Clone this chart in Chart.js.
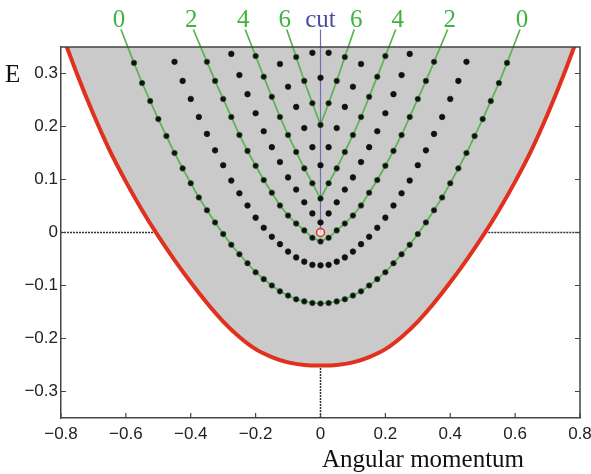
<!DOCTYPE html>
<html><head><meta charset="utf-8">
<script src="https://cdn.jsdelivr.net/npm/chart.js@4.4.1/dist/chart.umd.min.js"></script>
<style>html,body{margin:0;padding:0;background:#fff;}canvas{display:block;}</style>
</head><body>
<canvas id="c" width="591" height="474" style="width:591px;height:474px"></canvas>
<script>
const _ = null;
// angular momentum grid (x positions of levels)
const L_grid = [-0.575,-0.55,-0.525,-0.5,-0.475,-0.45,-0.425,-0.4,-0.375,-0.35,-0.325,-0.3,-0.275,-0.25,-0.225,-0.2,-0.175,-0.15,-0.125,-0.1,-0.075,-0.05,-0.025,0,0.025,0.05,0.075,0.1,0.125,0.15,0.175,0.2,0.225,0.25,0.275,0.3,0.325,0.35,0.375,0.4,0.425,0.45,0.475,0.5,0.525,0.55,0.575];
// energy levels of each branch on that grid
const E_b0 = [0.320,0.282,0.248,0.214,0.182,0.150,0.121,0.093,0.066,0.042,0.019,-0.003,-0.023,-0.041,-0.058,-0.075,-0.088,-0.100,-0.111,-0.119,-0.126,-0.130,-0.133,-0.134,-0.133,-0.130,-0.126,-0.119,-0.111,-0.100,-0.088,-0.075,-0.058,-0.041,-0.023,-0.003,0.019,0.042,0.066,0.093,0.121,0.150,0.182,0.214,0.248,0.282,0.320];
const E_b1 = [_,_,_,_,_,0.322,0.286,0.252,0.218,0.186,0.155,0.127,0.098,0.074,0.051,0.028,0.009,-0.008,-0.022,-0.036,-0.047,-0.055,-0.061,-0.062,-0.061,-0.055,-0.047,-0.036,-0.022,-0.008,0.009,0.028,0.051,0.074,0.098,0.127,0.155,0.186,0.218,0.252,0.286,0.322,_,_,_,_,_];
const E_b2 = [_,_,_,_,_,_,_,_,_,0.322,0.286,0.252,0.218,0.184,0.154,0.126,0.099,0.075,0.051,0.032,0.017,0.004,-0.010,-0.017,-0.010,0.004,0.017,0.032,0.051,0.075,0.099,0.126,0.154,0.184,0.218,0.252,0.286,0.322,_,_,_,_,_,_,_,_,_];
const E_b3 = [_,_,_,_,_,_,_,_,_,_,_,_,0.337,0.297,0.261,0.225,0.191,0.161,0.133,0.104,0.081,0.057,0.036,0.019,0.036,0.057,0.081,0.104,0.133,0.161,0.191,0.225,0.261,0.297,0.337,_,_,_,_,_,_,_,_,_,_,_,_];
const E_b4 = [_,_,_,_,_,_,_,_,_,_,_,_,_,_,_,0.333,0.294,0.256,0.218,0.184,0.152,0.121,0.093,0.064,0.093,0.121,0.152,0.184,0.218,0.256,0.294,0.333,_,_,_,_,_,_,_,_,_,_,_,_,_,_,_];
const E_b5 = [_,_,_,_,_,_,_,_,_,_,_,_,_,_,_,_,_,_,0.318,0.275,0.237,0.197,0.161,0.127,0.161,0.197,0.237,0.275,0.318,_,_,_,_,_,_,_,_,_,_,_,_,_,_,_,_,_,_];
const E_b6 = [_,_,_,_,_,_,_,_,_,_,_,_,_,_,_,_,_,_,_,_,0.331,0.286,0.244,0.203,0.244,0.286,0.331,_,_,_,_,_,_,_,_,_,_,_,_,_,_,_,_,_,_,_,_];
const E_b7 = [_,_,_,_,_,_,_,_,_,_,_,_,_,_,_,_,_,_,_,_,_,_,0.339,0.292,0.339,_,_,_,_,_,_,_,_,_,_,_,_,_,_,_,_,_,_,_,_,_,_];
const greenBranches = [E_b0, E_b2, E_b4, E_b6];
const blackBranches = [E_b1, E_b3, E_b5, E_b7];
const greenLabels = ['0','2','4','6'];
const greenEndL = [-0.615,-0.392,-0.232,-0.104];
const greenEndR = [0.615,0.392,0.232,0.104];
const greenEndE = 0.383;
const cutLabel = 'cut';
const cutL = 0;
const cutE = [0.0, 0.383];
const circleL = 0, circleE = 0.0;
// boundary (red) curve
const L_red = [-0.8,-0.75,-0.7,-0.65,-0.6,-0.55,-0.5,-0.45,-0.4,-0.35,-0.3,-0.25,-0.2,-0.15,-0.1,-0.05,0,0.05,0.1,0.15,0.2,0.25,0.3,0.35,0.4,0.45,0.5,0.55,0.6,0.65,0.7,0.75,0.8];
const E_red = [0.380,0.298,0.223,0.155,0.096,0.042,-0.007,-0.052,-0.094,-0.133,-0.168,-0.197,-0.220,-0.235,-0.245,-0.250,-0.251,-0.250,-0.245,-0.235,-0.220,-0.197,-0.168,-0.133,-0.094,-0.052,-0.007,0.042,0.096,0.155,0.223,0.298,0.380];
// dotted reference lines
const zeroLineLeftL = [-0.8,-0.508];
const zeroLineRightL = [0.508,0.8];
const zeroVertE = [-0.35,-0.251];
// axes
const xTicks = [-0.8,-0.6,-0.4,-0.2,0,0.2,0.4,0.6,0.8];
const xTickLabels = ['\u22120.8','\u22120.6','\u22120.4','\u22120.2','0','0.2','0.4','0.6','0.8'];
const yTicks = [-0.3,-0.2,-0.1,0,0.1,0.2,0.3];
const yTickLabels = ['\u22120.3','\u22120.2','\u22120.1','0','0.1','0.2','0.3'];
const xTitle = 'Angular momentum';
const yTitle = 'E';

const pts = E => L_grid.map((x,i)=>E[i]===null?null:{x:x,y:E[i]}).filter(Boolean);
const GREEN = '#58b450', DOT = '#111111';

const datasets = [];
datasets.push({data:L_red.map((x,i)=>({x:x,y:E_red[i]})), showLine:true, borderWidth:0, pointRadius:0, fill:'end', backgroundColor:'#cacaca', tension:0.35, order:100});
const dotted = {showLine:true, borderColor:'#333', borderWidth:1.5, borderDash:[2,1], pointRadius:0, fill:false, order:90, clip:0};
datasets.push(Object.assign({data:zeroLineLeftL.map(x=>({x:x,y:0}))}, dotted));
datasets.push(Object.assign({data:zeroLineRightL.map(x=>({x:x,y:0}))}, dotted));
datasets.push(Object.assign({data:zeroVertE.map(y=>({x:0,y:y}))}, dotted));
greenBranches.forEach((E,i)=>{
  datasets.push({data:[{x:greenEndL[i],y:greenEndE}].concat(pts(E)).concat([{x:greenEndR[i],y:greenEndE}]),
    showLine:true, borderColor:GREEN, borderWidth:1.7, pointRadius:0, fill:false, tension:0, clip:false, order:80});
});
datasets.push({data:cutE.map(y=>({x:cutL,y:y})), showLine:true, borderColor:'#6e6eb4', borderWidth:1.2, pointRadius:0, fill:false, clip:false, order:70});
greenBranches.concat(blackBranches).forEach((E,i)=>{
  datasets.push({data:pts(E), showLine:false, pointRadius:2.8, pointBackgroundColor:DOT, pointBorderColor:i<4?'#2f6a2f':DOT, pointBorderWidth:0.6, order:60});
});
datasets.push({data:[{x:circleL,y:circleE}], showLine:false, pointRadius:4, pointBackgroundColor:'rgba(255,255,255,0.55)', pointBorderColor:'#e03020', pointBorderWidth:1.5, order:50});
datasets.push({data:L_red.map((x,i)=>({x:x,y:E_red[i]})), showLine:true, borderColor:'#e0301e', borderWidth:4, pointRadius:0, fill:false, tension:0.35, clip:0, order:40});

const frame = {
  id:'frame',
  afterDatasetsDraw(chart){
    const ctx=chart.ctx, a=chart.chartArea, x=chart.scales.x, y=chart.scales.y;
    ctx.save();
    ctx.strokeStyle='#444'; ctx.lineWidth=1.5;
    ctx.beginPath(); ctx.moveTo(a.left,a.top); ctx.lineTo(a.right,a.top); ctx.lineTo(a.right,a.bottom); ctx.stroke();
    ctx.lineWidth=1.2; ctx.beginPath();
    xTicks.forEach(v=>{const px=x.getPixelForValue(v); ctx.moveTo(px,a.bottom); ctx.lineTo(px,a.bottom-5);});
    yTicks.forEach(v=>{const py=y.getPixelForValue(v); ctx.moveTo(a.left,py); ctx.lineTo(a.left+5,py); ctx.moveTo(a.right,py); ctx.lineTo(a.right-5,py);});
    ctx.stroke();
    ctx.restore();
  },
  afterDraw(chart){
    const ctx=chart.ctx, x=chart.scales.x, y=chart.scales.y;
    ctx.save();
    ctx.font='25px "Liberation Serif", "Times New Roman", serif';
    ctx.textAlign='center'; ctx.textBaseline='alphabetic';
    ctx.fillStyle='#3fb23f';
    const py=y.getPixelForValue(greenEndE);
    greenLabels.forEach((t,i)=>{
      ctx.fillText(t, x.getPixelForValue(greenEndL[i])-2, py-3);
      ctx.fillText(t, x.getPixelForValue(greenEndR[i])+2, py-3);
    });
    ctx.fillStyle='#4c4ca6';
    ctx.fillText(cutLabel, x.getPixelForValue(cutL), y.getPixelForValue(cutE[1])-3);
    ctx.fillStyle='#111';
    ctx.textAlign='left';
    ctx.fillText(yTitle, 5, 82);
    ctx.textAlign='center';
    ctx.fillText(xTitle, 423, 467);
    ctx.restore();
  }
};

new Chart(document.getElementById('c'), {
  type:'scatter',
  data:{datasets:datasets},
  options:{
    responsive:false, animation:false, devicePixelRatio:1,
    layout:{padding:{top:47,right:11,left:0,bottom:0}},
    plugins:{legend:{display:false}, tooltip:{enabled:false}, filler:{drawTime:'beforeDatasetsDraw'}},
    scales:{
      x:{type:'linear', min:-0.8, max:0.8,
        grid:{display:false, drawTicks:false},
        border:{display:true, color:'#444', width:1.5},
        ticks:{font:{family:'"Liberation Sans", Arial, sans-serif', size:17}, color:'#222', padding:6, maxRotation:0, autoSkip:false,
          callback:v=>{const i=xTicks.findIndex(t=>Math.abs(t-v)<1e-9); return i>=0?xTickLabels[i]:'';}},
        afterBuildTicks:s=>{s.ticks=xTicks.map(v=>({value:v}));},
        afterFit:s=>{s.height=56; s.paddingLeft=0; s.paddingRight=0;}
      },
      y:{type:'linear', min:-0.35, max:0.35,
        grid:{display:false, drawTicks:false},
        border:{display:true, color:'#444', width:1.5},
        ticks:{font:{family:'"Liberation Sans", Arial, sans-serif', size:17}, color:'#222', padding:3,
          callback:v=>{const i=yTicks.findIndex(t=>Math.abs(t-v)<1e-9); return i>=0?yTickLabels[i]:'';}},
        afterBuildTicks:s=>{s.ticks=yTicks.map(v=>({value:v}));},
        afterFit:s=>{s.width=61; s.paddingTop=0; s.paddingBottom=0;}
      }
    }
  },
  plugins:[frame]
});
</script>
</body></html>
